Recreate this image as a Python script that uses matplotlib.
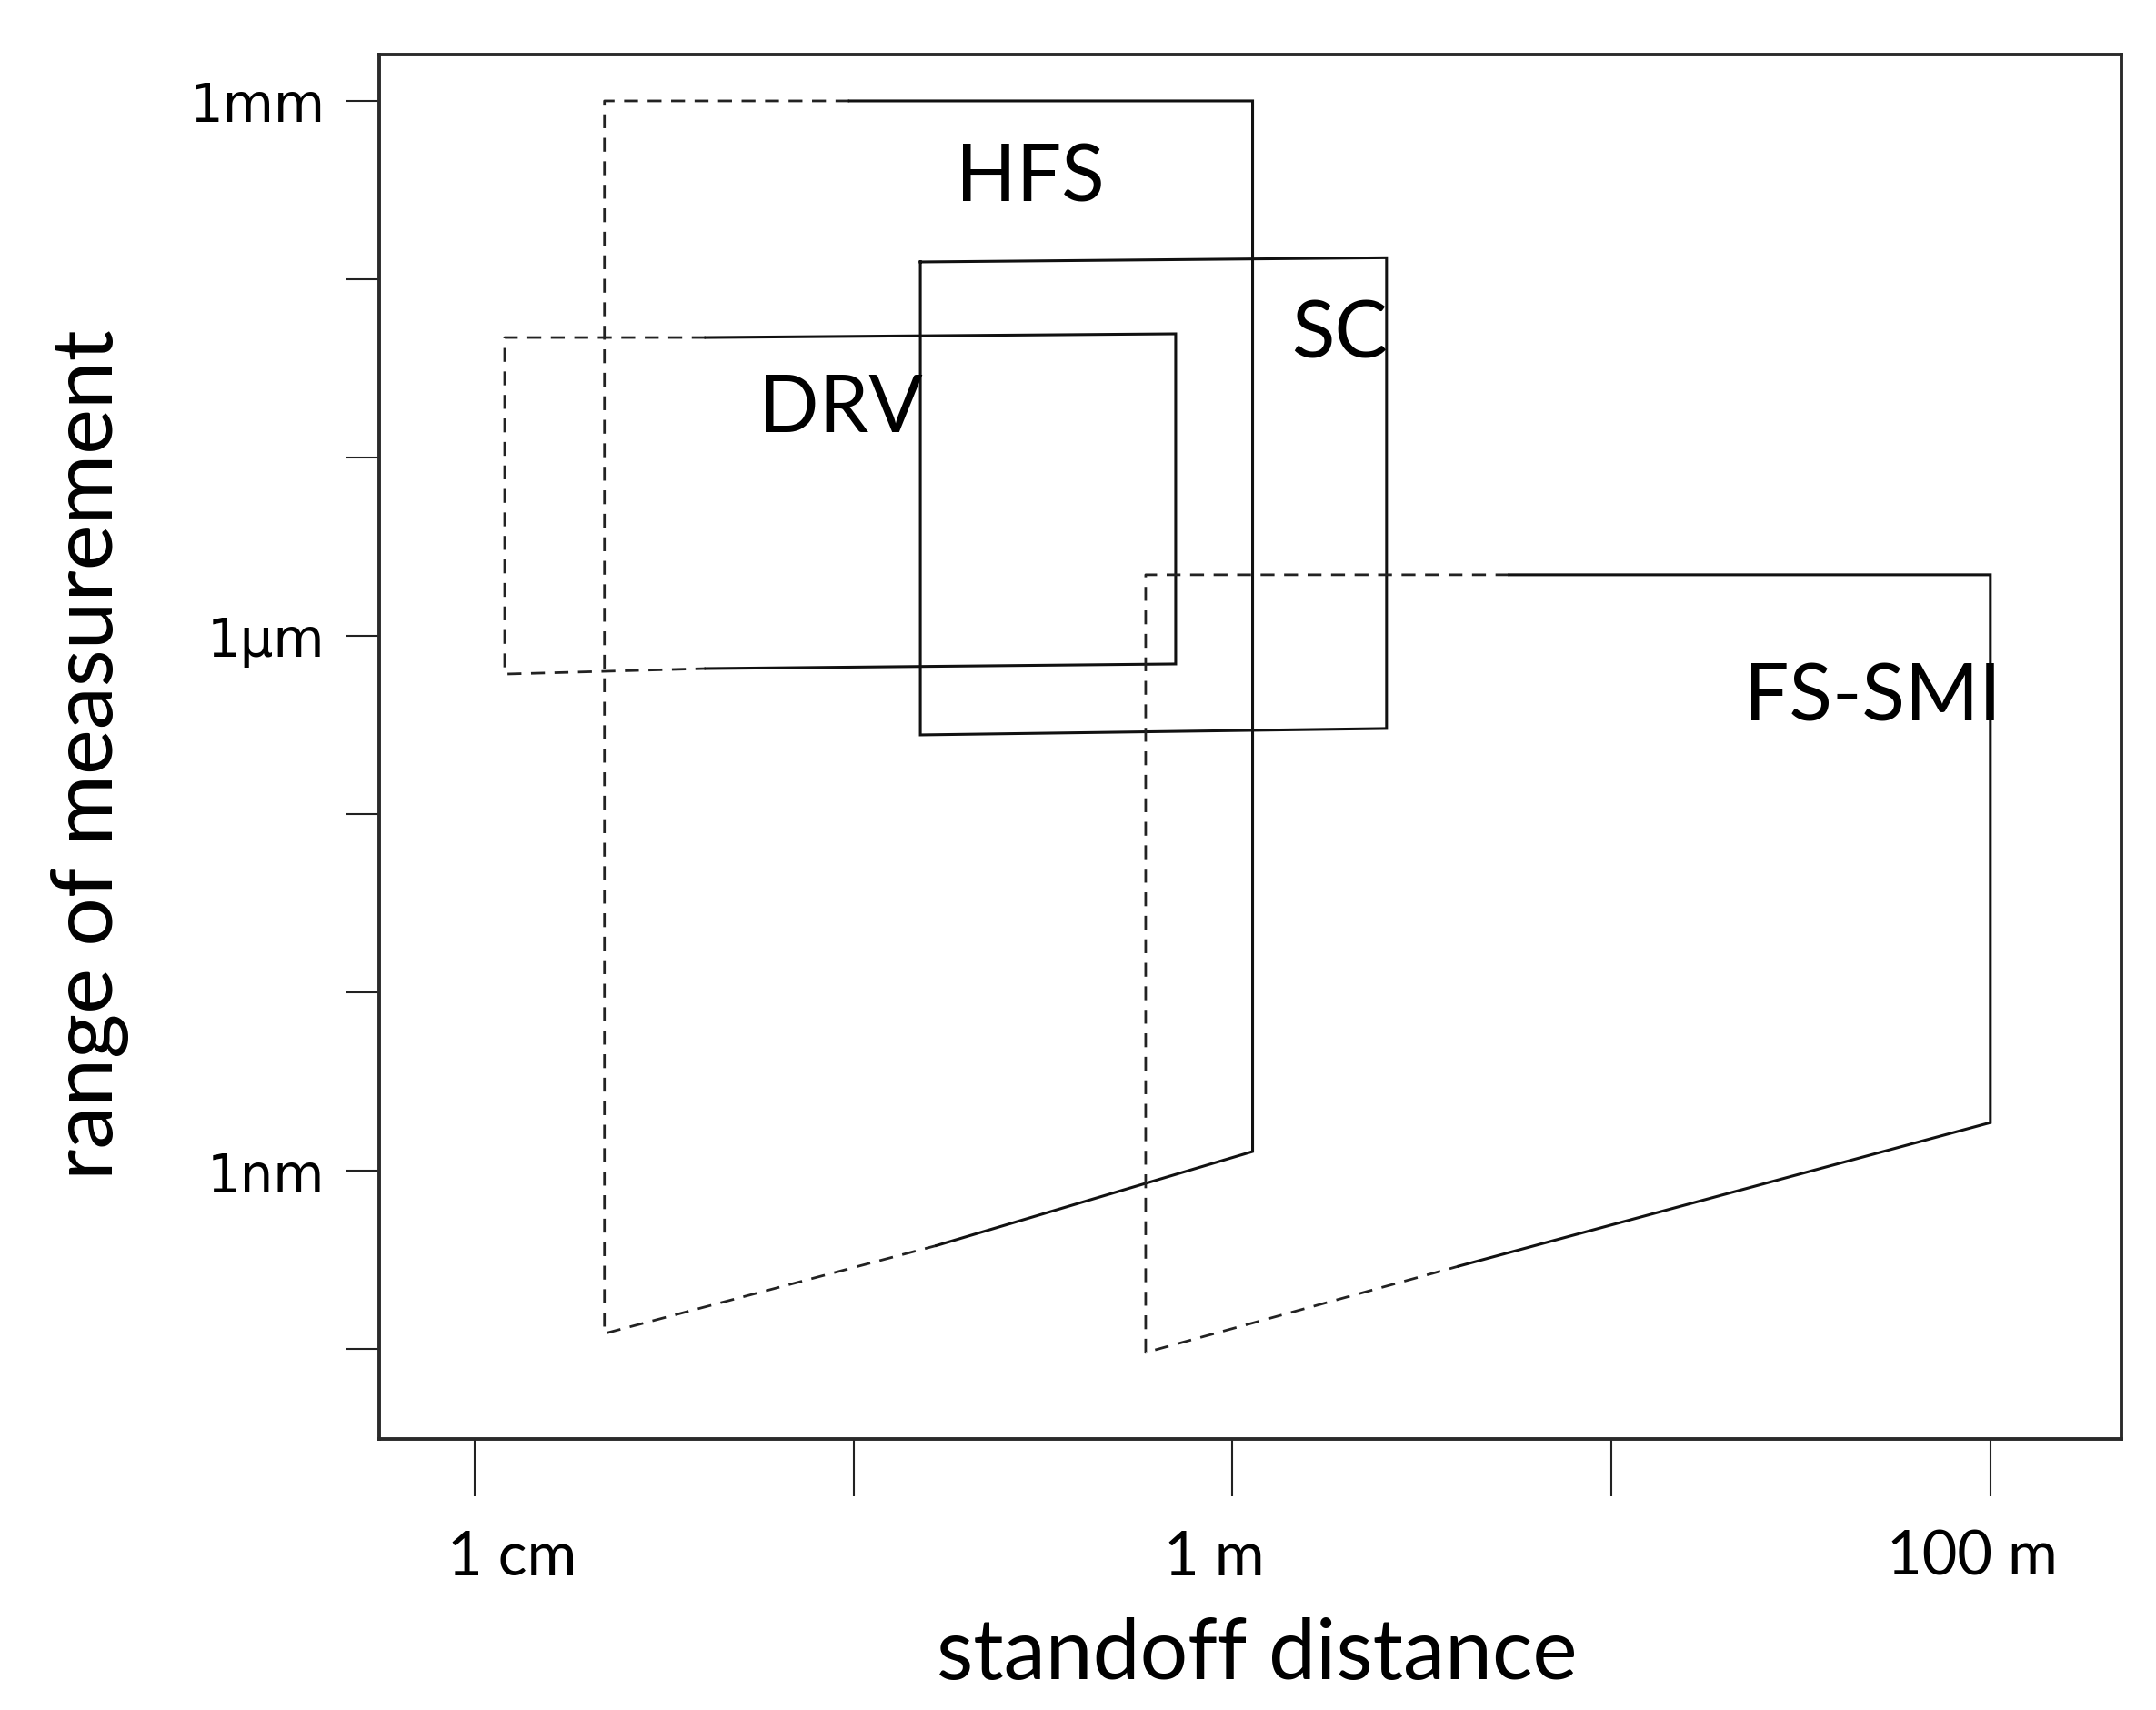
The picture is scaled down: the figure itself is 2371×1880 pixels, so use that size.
import matplotlib
matplotlib.use("Agg")
import matplotlib.pyplot as plt
from matplotlib.transforms import ScaledTranslation

# ---- data (standoff distance in m, range of measurement in m) ----
hfs_dash_x = [0.0975, 0.022, 0.022, 0.1655]
hfs_dash_y = [1.0e-3, 1.0e-3, 1.22e-10, 3.8e-10]
hfs_solid_x = [0.0975, 1.13, 1.13, 0.1655]
hfs_solid_y = [1.0e-3, 1.0e-3, 1.28e-9, 3.8e-10]

sc_x = [0.15, 2.55, 2.55, 0.15, 0.15]
sc_y = [1.25e-4, 1.32e-4, 3.02e-7, 2.78e-7, 1.25e-4]

drv_dash_x = [0.0407, 0.012, 0.012, 0.0407]
drv_dash_y = [4.71e-5, 4.71e-5, 6.1e-7, 6.55e-7]
drv_solid_x = [0.0407, 0.708, 0.708, 0.0407]
drv_solid_y = [4.71e-5, 4.94e-5, 6.95e-7, 6.55e-7]

fs_dash_x = [5.38, 0.59, 0.59, 3.95]
fs_dash_y = [2.2e-6, 2.2e-6, 9.55e-11, 2.91e-10]
fs_solid_x = [5.38, 100.0, 100.0, 3.95]
fs_solid_y = [2.2e-6, 2.2e-6, 1.86e-9, 2.91e-10]

labels = ["HFS", "SC", "DRV", "FS-SMI"]
label_x = [0.292, 1.92, 0.0922, 49.0]
label_y = [2.75e-4, 3.68e-5, 1.41e-5, 3.36e-7]

x_ticks = [1e-2, 1e-1, 1e0, 1e1, 1e2]
x_ticklabels = ["1 cm", "", "1 m", "", "100 m"]
y_ticks = [1e-3, 1e-4, 1e-5, 1e-6, 1e-7, 1e-8, 1e-9, 1e-10]
y_ticklabels = ["1mm", "", "", "1\u00b5m", "", "", "1nm", ""]

# ---- figure ----
W, H = 2371, 1881
fig = plt.figure(figsize=(W / 100, H / 100), dpi=100)
ax = fig.add_axes([417 / W, 1 - 1583 / H, (2333 - 417) / W, (1583 - 61) / H])
ax.set_xscale("log")
ax.set_yscale("log")
ax.set_xlim(10 ** -2.252, 10 ** 2.346)
ax.set_ylim(10 ** -10.505, 10 ** -2.74)

solid_kw = dict(color="#111111", lw=2.2, solid_joinstyle="miter")
dash_kw = dict(color="#222222", lw=2.0, linestyle=(0, (5.5, 3.8)))

ax.plot(hfs_dash_x, hfs_dash_y, **dash_kw)
ax.plot(hfs_solid_x, hfs_solid_y, **solid_kw)
ax.plot(sc_x, sc_y, **solid_kw)
ax.plot(drv_dash_x, drv_dash_y, **dash_kw)
ax.plot(drv_solid_x, drv_solid_y, **solid_kw)
ax.plot(fs_dash_x, fs_dash_y, **dash_kw)
ax.plot(fs_solid_x, fs_solid_y, **solid_kw)

for t, x, y in zip(labels, label_x, label_y):
    ax.text(x, y, t, ha="center", va="baseline", fontsize=63,
            family=["Lato", "DejaVu Sans"], color="black")

ax.xaxis.set_minor_locator(matplotlib.ticker.NullLocator())
ax.yaxis.set_minor_locator(matplotlib.ticker.NullLocator())
ax.set_xticks(x_ticks)
ax.set_xticklabels(x_ticklabels, fontsize=48, family=["Lato", "DejaVu Sans"])
ax.set_yticks(y_ticks)
ax.set_yticklabels(y_ticklabels, fontsize=41.5, family="DejaVu Sans")
ax.tick_params(axis="x", length=45, width=1.5, pad=26, color="#222222")
ax.tick_params(axis="y", length=26, width=1.5, pad=17, color="#222222")

# small horizontal nudges of the x tick labels as in the original drawing
x_label_shift_px = [41, 0, -20, 0, -20]
for lab, dx in zip(ax.get_xticklabels(), x_label_shift_px):
    lab.set_transform(lab.get_transform() + ScaledTranslation(dx / 100, 0, fig.dpi_scale_trans))

for s in ax.spines.values():
    s.set_linewidth(2.8)
    s.set_color("#2a2a2a")

ax.set_xlabel("standoff distance", fontsize=67, family=["Lato", "DejaVu Sans"])
ax.set_ylabel("range of measurement", fontsize=68, family=["Lato", "DejaVu Sans"])
ax.xaxis.label.set_va("center")
ax.yaxis.label.set_va("center")
ax.xaxis.set_label_coords(0.504, -0.156)
ax.yaxis.set_label_coords(-0.166, 0.495)

fig.savefig("out.png", dpi=100)
